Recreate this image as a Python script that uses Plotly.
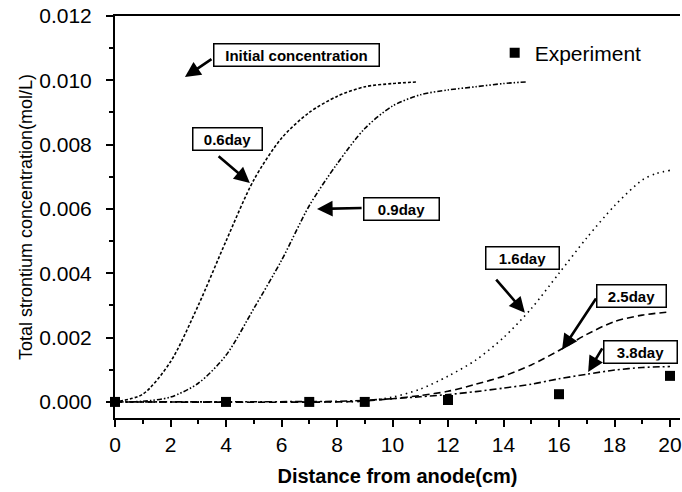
import plotly.graph_objects as go

# ---- data ----
x_06 = [0, 1, 2, 3, 4, 5, 6, 7, 8, 9, 10, 10.9]
y_06 = [0.0, 0.00024, 0.00125, 0.0030, 0.0050, 0.0069, 0.0082, 0.0090, 0.0095, 0.0098, 0.0099, 0.00995]

x_09 = [0, 1, 2, 3, 4, 5, 6, 7, 8, 9, 10, 11, 12, 13, 14, 14.8]
y_09 = [0.0, 0.00002, 0.00015, 0.00058, 0.00145, 0.0029, 0.0044, 0.0061, 0.0074, 0.0085, 0.0092, 0.00955, 0.0097, 0.0098, 0.0099, 0.00995]

x_16 = [0, 8, 9, 10, 11, 12, 13, 14, 15, 16, 17, 18, 19, 19.5, 20]
y_16 = [0.0, 0.0, 0.00003, 0.00015, 0.0004, 0.0008, 0.0013, 0.0020, 0.0029, 0.0040, 0.0051, 0.0061, 0.0069, 0.0071, 0.0072]

x_25 = [0, 8, 9, 10, 11, 12, 13, 14, 15, 16, 17, 18, 19, 20]
y_25 = [0.0, 0.0, 0.00003, 0.0001, 0.0002, 0.00033, 0.00055, 0.0008, 0.00115, 0.0016, 0.0021, 0.0025, 0.0027, 0.0028]

x_38 = [0, 8, 9, 10, 11, 12, 13, 14, 15, 16, 17, 18, 19, 20]
y_38 = [0.0, 0.00002, 0.00005, 0.0001, 0.00016, 0.00023, 0.00032, 0.00043, 0.00055, 0.00072, 0.00086, 0.00099, 0.00107, 0.0011]

x_exp = [0, 4, 7, 9, 12, 16, 20]
y_exp = [0.0, 0.0, 0.0, 0.0, 0.00006, 0.00024, 0.00081]

x_ticks = [0, 2, 4, 6, 8, 10, 12, 14, 16, 18, 20]
y_ticks = [0.000, 0.002, 0.004, 0.006, 0.008, 0.010, 0.012]

FONT = "Arial, Liberation Sans, sans-serif"

fig = go.Figure()

curves = [
    (x_06, y_06, "3px,2px"),
    (x_09, y_09, "5px,2px,1.5px,2px,1.5px,2px"),
    (x_16, y_16, "1.5px,4px"),
    (x_25, y_25, "7px,4px"),
    (x_38, y_38, "7px,3px,2px,3px"),
]
for xs, ys, dash in curves:
    fig.add_trace(go.Scatter(x=xs, y=ys, mode="lines", showlegend=False,
                             line=dict(color="black", width=1.6, dash=dash, shape="spline", smoothing=0.8),
                             cliponaxis=False, hoverinfo="skip"))

fig.add_trace(go.Scatter(x=x_exp, y=y_exp, mode="markers", name="Experiment",
                         marker=dict(symbol="square", size=10, color="black"),
                         cliponaxis=False))

# text boxes
boxes = [
    ("Initial concentration", 6.54, 0.01079, 160),
    ("0.6day", 4.07, 0.00816, 64),
    ("0.9day", 10.32, 0.00601, 70),
    ("1.6day", 14.68, 0.00447, 68),
    ("2.5day", 18.62, 0.00330, 64),
    ("3.8day", 18.95, 0.00156, 68),
]
for txt, bx, by, w in boxes:
    fig.add_annotation(x=bx, y=by, xref="x", yref="y", text="<b>%s</b>" % txt,
                       showarrow=False, font=dict(family=FONT, size=15, color="black"),
                       bordercolor="black", borderwidth=1.5, borderpad=2,
                       bgcolor="white", width=w, align="center")

# arrows (tail -> head)
arrows = [
    (3.53, 0.01069, 2.52, 0.01010),
    (3.68, 0.00768, 4.86, 0.00681),
    (8.94, 0.00603, 7.28, 0.00600),
    (13.69, 0.00385, 14.77, 0.00277),
    (17.37, 0.00326, 16.11, 0.00162),
    (17.59, 0.00171, 17.05, 0.00093),
]
for tx, ty, hx, hy in arrows:
    fig.add_annotation(x=hx, y=hy, ax=tx, ay=ty, xref="x", yref="y", axref="x", ayref="y",
                       text="", showarrow=True, arrowhead=2, arrowsize=1.2,
                       arrowwidth=2.6, arrowcolor="black")

fig.update_layout(
    width=682, height=492,
    margin=dict(l=115, r=2, t=16, b=74),
    paper_bgcolor="white", plot_bgcolor="white",
    font=dict(family=FONT, color="black"),
    showlegend=True,
    legend=dict(x=0.672, y=0.908, xanchor="left", yanchor="middle",
                font=dict(family=FONT, size=21, color="black"),
                bgcolor="rgba(0,0,0,0)", borderwidth=0),
)

fig.update_xaxes(
    range=[0, 20.36], showgrid=False, zeroline=False, automargin=False,
    showline=True, linecolor="black", linewidth=2, mirror=True,
    ticks="outside", ticklen=7, tickwidth=2, tickcolor="black",
    tickvals=x_ticks, ticktext=[str(v) for v in x_ticks],
    tickfont=dict(family=FONT, size=21, color="black"),
    minor=dict(dtick=1, ticks="outside", ticklen=4, tickwidth=1.5, tickcolor="black"),
    title=dict(text="<b>Distance from anode(cm)</b>", font=dict(family=FONT, size=20, color="black"), standoff=14),
)
fig.update_yaxes(
    range=[-0.0005, 0.012], showgrid=False, zeroline=False, automargin=False,
    showline=True, linecolor="black", linewidth=2, mirror=False,
    ticks="outside", ticklen=7, tickwidth=2, tickcolor="black",
    ticklabelstandoff=10,
    tickvals=y_ticks, ticktext=["%.3f" % v for v in y_ticks],
    tickfont=dict(family=FONT, size=21, color="black"),
    minor=dict(dtick=0.001, tick0=0, ticks="outside", ticklen=4, tickwidth=1.5, tickcolor="black"),
    title=dict(text="Total strontium concentration(mol/L)", font=dict(family=FONT, size=18, color="black"), standoff=2),
)

fig.write_html("out.html", config={"displayModeBar": False},
               post_script="document.body.style.margin='0';")
